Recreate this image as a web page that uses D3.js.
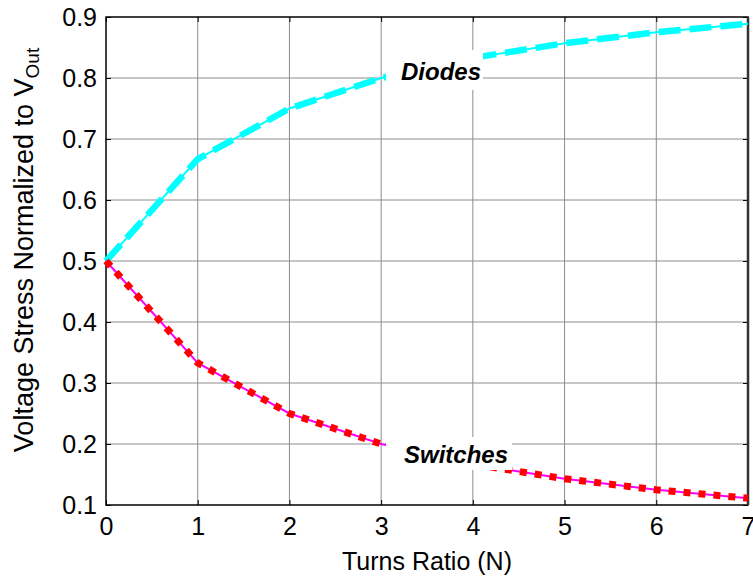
<!DOCTYPE html>
<html>
<head>
<meta charset="utf-8">
<script src="https://cdn.jsdelivr.net/npm/d3@7"></script>
<style>
  body { margin: 0; background: #fff; }
  svg { display: block; font-family: Arial, "Liberation Sans", sans-serif; }
</style>
</head>
<body>
<div id="chart"></div>
<script>
// turns ratio N and normalized voltage stress
const turns = [0, 1, 2, 3, 4, 5, 6, 7];
const diodes = [0.5, 0.667, 0.75, 0.8, 0.833, 0.857, 0.875, 0.889];
const switches = [0.5, 0.333, 0.25, 0.2, 0.167, 0.143, 0.125, 0.111];
const xTicks = [0, 1, 2, 3, 4, 5, 6, 7];
const yTicks = [0.1, 0.2, 0.3, 0.4, 0.5, 0.6, 0.7, 0.8, 0.9];

const width = 753, height = 577;
const margin = { top: 17, right: 5, bottom: 72, left: 106 };

const svg = d3.select("#chart").append("svg")
  .attr("width", width)
  .attr("height", height);

const x = d3.scaleLinear().domain([0, 7]).range([margin.left, width - margin.right]);
const y = d3.scaleLinear().domain([0.1, 0.9]).range([height - margin.bottom, margin.top]);

const x0 = x.range()[0], x1 = x.range()[1];
const y0 = y.range()[0], y1 = y.range()[1];

// grid
const grid = svg.append("g").attr("stroke", "#8c8c8c").attr("stroke-width", 1);
grid.selectAll("line.gx").data(xTicks.slice(1, -1)).enter().append("line")
  .attr("x1", d => x(d)).attr("x2", d => x(d))
  .attr("y1", y0).attr("y2", y1);
grid.selectAll("line.gy").data(yTicks.slice(1, -1)).enter().append("line")
  .attr("x1", x0).attr("x2", x1)
  .attr("y1", d => y(d)).attr("y2", d => y(d));

// axes with inward ticks
const tickLen = 5;
const xAxis = svg.append("g").attr("transform", "translate(0," + y0 + ")")
  .call(d3.axisBottom(x).tickValues(xTicks).tickFormat(d3.format("d"))
    .tickSizeInner(-tickLen).tickSizeOuter(0).tickPadding(12));
const yAxis = svg.append("g").attr("transform", "translate(" + x0 + ",0)")
  .call(d3.axisLeft(y).tickValues(yTicks).tickFormat(d3.format(".1f"))
    .tickSizeInner(-tickLen).tickSizeOuter(0).tickPadding(9));
svg.append("g").attr("transform", "translate(0," + y1 + ")")
  .call(d3.axisTop(x).tickValues(xTicks).tickFormat("").tickSizeInner(-tickLen).tickSizeOuter(0));
svg.append("g").attr("transform", "translate(" + x1 + ",0)")
  .call(d3.axisRight(y).tickValues(yTicks).tickFormat("").tickSizeInner(-tickLen).tickSizeOuter(0));

svg.selectAll(".domain").remove();
svg.selectAll(".tick line").attr("stroke", "#000").attr("stroke-width", 1);
xAxis.selectAll("text").attr("font-size", 25).attr("fill", "#000");
yAxis.selectAll("text").attr("font-size", 25).attr("fill", "#000");

// box
svg.append("rect")
  .attr("x", x0).attr("y", y1)
  .attr("width", x1 - x0).attr("height", y0 - y1)
  .attr("fill", "none").attr("stroke", "#000").attr("stroke-width", 1.5);
svg.append("line")
  .attr("x1", x1).attr("x2", x1).attr("y1", y1).attr("y2", y0)
  .attr("stroke", "#333").attr("stroke-width", 2.5);

const line = d3.line().x((d, i) => x(turns[i])).y(d => y(d));

// diodes: thin solid cyan under thick dashed cyan
svg.append("path").datum(diodes).attr("d", line)
  .attr("fill", "none").attr("stroke", "#00ffff").attr("stroke-width", 2);
svg.append("path").datum(diodes).attr("d", line)
  .attr("fill", "none").attr("stroke", "#00ffff").attr("stroke-width", 6.5)
  .attr("stroke-dasharray", "22,9");

// switches: thin magenta under thick red dots
svg.append("path").datum(switches).attr("d", line)
  .attr("fill", "none").attr("stroke", "#ff00ff").attr("stroke-width", 2);
svg.append("path").datum(switches).attr("d", line)
  .attr("fill", "none").attr("stroke", "#ff0000").attr("stroke-width", 7)
  .attr("stroke-dasharray", "7,8");

// labels with white background
function boxedLabel(txt, cx, baseline, padL, padR, top, bottom) {
  const g = svg.append("g");
  const r = g.append("rect").attr("fill", "#fff");
  const t = g.append("text")
    .attr("x", cx).attr("y", baseline)
    .attr("text-anchor", "middle")
    .attr("font-size", 24).attr("font-weight", "bold").attr("font-style", "italic")
    .text(txt);
  const b = t.node().getBBox();
  r.attr("x", b.x - padL).attr("y", top)
    .attr("width", b.width + padL + padR).attr("height", bottom - top);
}
boxedLabel("Diodes", 441, 80, 15, 2, 50, 90);
boxedLabel("Switches", 456, 463, 18, 4, 437, 470);

// axis titles
svg.append("text")
  .attr("x", (x0 + x1) / 2).attr("y", 570)
  .attr("text-anchor", "middle").attr("font-size", 25)
  .text("Turns Ratio (N)");

const yl = svg.append("text")
  .attr("transform", "translate(33,250) rotate(-90)")
  .attr("text-anchor", "middle").attr("font-size", 27);
yl.append("tspan").text("Voltage Stress Normalized to V");
yl.append("tspan").attr("dy", 6).attr("font-size", 19).text("Out");
</script>
</body>
</html>
